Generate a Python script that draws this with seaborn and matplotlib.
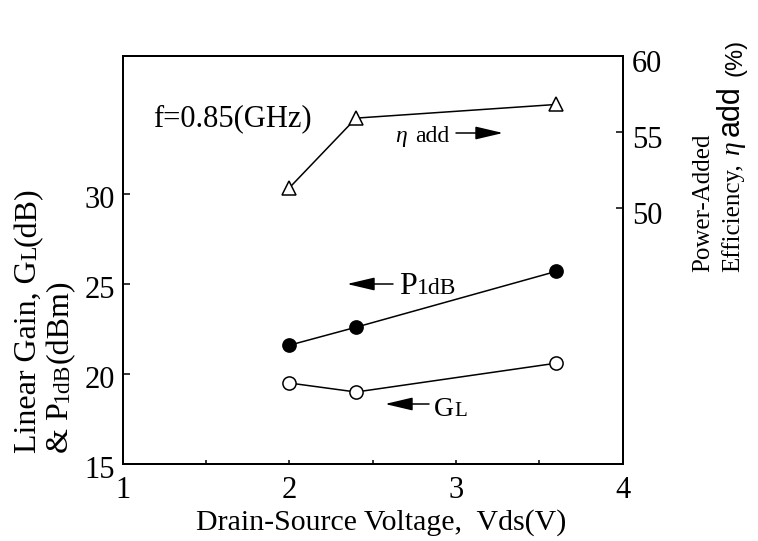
import numpy as np
import pandas as pd
import seaborn as sns
import matplotlib
matplotlib.use("Agg")
import matplotlib.pyplot as plt
from matplotlib.transforms import IdentityTransform, ScaledTranslation

# ---------------- data ----------------
vds = [2.0, 2.4, 3.6]
gain_gl = [19.5, 19.0, 20.6]
p1db = [21.6, 22.6, 25.7]
eta_add = [51.3, 55.9, 56.8]

x_ticks = [1, 1.5, 2, 2.5, 3, 3.5, 4]
x_tick_labels = ["1", "", "2", "", "3", "", "4"]
left_ticks = [15, 20, 25, 30]
left_tick_labels = ["15", "20", "25", "30"]
right_ticks = [50, 55, 60]
right_tick_labels = ["50", "55", "60"]

# ---------------- style ----------------
sns.set_style("white")
plt.rcParams["font.family"] = ["Liberation Serif", "DejaVu Serif"]

W, H = 758, 541
fig = plt.figure(figsize=(W / 100, H / 100), dpi=100)
ax = fig.add_axes([122.7 / W, 1 - 464 / H, 500 / W, 408 / H])
ax2 = ax.twinx()

df = pd.DataFrame({"Vds": vds, "GL": gain_gl, "P1dB": p1db, "eta": eta_add})

sns.lineplot(data=df, x="Vds", y="P1dB", ax=ax, color="black", lw=1.1,
             marker="o", markersize=9.5, markerfacecolor="black",
             markeredgecolor="black", markeredgewidth=1.1)
sns.lineplot(data=df, x="Vds", y="GL", ax=ax, color="black", lw=1.1,
             marker="o", markersize=9.5, markerfacecolor="white",
             markeredgecolor="black", markeredgewidth=1.1)
sns.lineplot(data=df, x="Vds", y="eta", ax=ax2, color="black", lw=1.1,
             marker="^", markersize=10.5, markerfacecolor="white",
             markeredgecolor="black", markeredgewidth=1.1)

ax.set_xlim(1, 4)
ax.set_ylim(15, 37.67)
ax2.set_ylim(33.07, 59.95)

ax.set_xticks(x_ticks)
ax.set_xticklabels(x_tick_labels)
ax.set_yticks(left_ticks)
ax.set_yticklabels(left_tick_labels)
ax2.set_yticks(right_ticks)
ax2.set_yticklabels(right_tick_labels)

ax.set_ylabel("")
ax2.set_ylabel("")

for a in (ax, ax2):
    for s in a.spines.values():
        s.set_visible(True)
        s.set_color("black")
        s.set_linewidth(1.4)

ax.tick_params(axis="x", direction="in", length=3, width=1.1, pad=9,
               labelsize=22, bottom=True, top=False, colors="black")
ax.tick_params(axis="y", direction="in", length=5, width=1.1, pad=5.5,
               labelsize=22, left=True, right=False, colors="black")
ax2.tick_params(axis="y", direction="in", length=5, width=1.1, pad=6.5,
                labelsize=22, right=True, left=False, colors="black")

off_r = ScaledTranslation(0, -5 / 100, fig.dpi_scale_trans)
for lbl in ax2.get_yticklabels():
    lbl.set_transform(lbl.get_transform() + off_r)
off_l = ScaledTranslation(0, -3 / 100, fig.dpi_scale_trans)
for lbl in ax.get_yticklabels():
    lbl.set_transform(lbl.get_transform() + off_l)

ax.set_xlabel("Drain-Source Voltage,  Vds(V)", fontsize=21.5, color="black")
ax.xaxis.set_label_coords(0.517, -0.162)
ax.xaxis.label.set_verticalalignment("baseline")

# ---------------- helper for mixed-size text ----------------
renderer = fig.canvas.get_renderer()


def place_pieces(x_px, y_px, pieces, rotation=0):
    pos = 0.0
    for s, kw in pieces:
        kw = dict(kw)
        gap = kw.pop("gap", 0)
        if rotation == 90:
            t = fig.text(x_px, H - y_px + pos, s, transform=IdentityTransform(),
                         rotation=90, rotation_mode="anchor", ha="left",
                         va="baseline", color="black", **kw)
            bb = t.get_window_extent(renderer)
            pos += bb.height + gap
        else:
            t = fig.text(x_px + pos, H - y_px, s, transform=IdentityTransform(),
                         ha="left", va="baseline", color="black", **kw)
            bb = t.get_window_extent(renderer)
            pos += bb.width + gap


sans = ["Liberation Sans", "DejaVu Sans"]

# left axis label (two lines)
place_pieces(36, 453, [("Linear Gain, G", dict(fontsize=23)),
                       ("L", dict(fontsize=17)),
                       ("(dB)", dict(fontsize=23))], rotation=90)
place_pieces(68, 453, [("& P", dict(fontsize=23)),
                       ("1dB", dict(fontsize=17)),
                       ("(dBm)", dict(fontsize=23))], rotation=90)

# right axis label
place_pieces(709, 272, [("Power-Added", dict(fontsize=18))], rotation=90)
place_pieces(739, 272, [("Efficiency,", dict(fontsize=18, gap=8)),
                        ("η", dict(fontsize=20, style="italic", gap=6)),
                        ("add", dict(fontsize=22, family=sans))], rotation=90)
place_pieces(742, 76, [("(%)", dict(fontsize=17, family=sans))], rotation=90)

# in-plot annotations
place_pieces(153, 126, [("f=0.85(GHz)", dict(fontsize=22))])
place_pieces(395, 142, [("η", dict(fontsize=17, style="italic", gap=8)),
                        ("add", dict(fontsize=17))])
place_pieces(399, 294, [("P", dict(fontsize=23)), ("1dB", dict(fontsize=17))])
place_pieces(434, 416, [("G", dict(fontsize=20)), ("L", dict(fontsize=15))])

arrow_kw = dict(arrowstyle="-|>,head_length=1.7,head_width=0.4",
                mutation_scale=10, lw=1.1, color="black", shrinkA=0, shrinkB=0)
for tail, tip in [((456, 133), (503, 133)),
                  ((393, 284), (347, 284)),
                  ((429, 404), (385, 404))]:
    ax.annotate("", xy=(tip[0], H - tip[1]), xytext=(tail[0], H - tail[1]),
                xycoords="figure pixels", textcoords="figure pixels",
                arrowprops=arrow_kw)

fig.savefig("out.png", dpi=100)
